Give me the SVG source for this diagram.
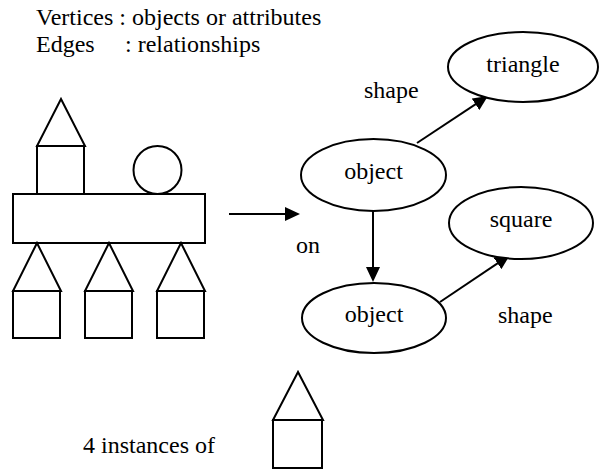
<svg xmlns="http://www.w3.org/2000/svg" width="600" height="471" viewBox="0 0 600 471">
<style>
  text { font-size: 24px; fill: #000; }
  .mid { text-anchor: middle; }
  .shape { fill: #fff; stroke: #000; stroke-width: 2; }
  .edge { stroke: #000; stroke-width: 2; fill: none; marker-end: url(#arrow); }
  .node ellipse { fill: #fff; stroke: #000; stroke-width: 2; }
</style>
<defs>
  <marker id="arrow" viewBox="0 0 15 14" refX="13" refY="7" markerWidth="15" markerHeight="14" markerUnits="userSpaceOnUse" orient="auto">
    <polygon points="0,0 15,7 0,14" fill="#000"/>
  </marker>
</defs>
<rect width="600" height="471" fill="#fff"/>

<g id="legend">
  <text x="36" y="25" font-family="'Times New Roman', 'Liberation Serif', Tinos, serif">Vertices : objects or attributes</text>
  <text x="36" y="52" font-family="'Times New Roman', 'Liberation Serif', Tinos, serif">Edges</text>
  <text x="125" y="52" font-family="'Times New Roman', 'Liberation Serif', Tinos, serif">: relationships</text>
</g>

<g id="scene">
  <polygon class="shape" points="61,99 37,146 85,146"/>
  <rect class="shape" x="37" y="146" width="47" height="48"/>
  <circle class="shape" cx="157.5" cy="170" r="24"/>
  <rect class="shape" x="13" y="194" width="192" height="49"/>
  <polygon class="shape" points="37,243 13,291 61,291"/>
  <rect class="shape" x="13" y="291" width="47" height="47"/>
  <polygon class="shape" points="109,243 85,291 133,291"/>
  <rect class="shape" x="85" y="291" width="47" height="47"/>
  <polygon class="shape" points="181,243 157,291 205,291"/>
  <rect class="shape" x="157" y="291" width="47" height="47"/>
</g>

<g id="connectors">
  <line class="edge" x1="229" y1="214" x2="298" y2="214"/>
  <line class="edge" x1="373" y1="211" x2="373" y2="280"/>
  <line class="edge" x1="417" y1="143" x2="486.3" y2="97.1"/>
  <line class="edge" x1="440" y1="302" x2="508.3" y2="256.1"/>
</g>

<g id="node-object1" class="node">
  <ellipse cx="373.5" cy="175" rx="72.5" ry="36"/>
  <text class="mid" x="373.5" y="179" font-family="'Times New Roman', 'Liberation Serif', Tinos, serif">object</text>
</g>
<g id="node-object2" class="node">
  <ellipse cx="374" cy="318" rx="72" ry="35"/>
  <text class="mid" x="374" y="322" font-family="'Times New Roman', 'Liberation Serif', Tinos, serif">object</text>
</g>
<g id="node-triangle" class="node">
  <ellipse cx="523" cy="67" rx="75" ry="35"/>
  <text class="mid" x="523" y="72" font-family="'Times New Roman', 'Liberation Serif', Tinos, serif">triangle</text>
</g>
<g id="node-square" class="node">
  <ellipse cx="521" cy="223" rx="72" ry="36"/>
  <text class="mid" x="521" y="227" font-family="'Times New Roman', 'Liberation Serif', Tinos, serif">square</text>
</g>

<g id="labels">
  <text x="364" y="98" font-family="'Times New Roman', 'Liberation Serif', Tinos, serif">shape</text>
  <text x="296" y="253" font-family="'Times New Roman', 'Liberation Serif', Tinos, serif">on</text>
  <text x="498" y="323" font-family="'Times New Roman', 'Liberation Serif', Tinos, serif">shape</text>
  <text x="83" y="453" font-family="'Times New Roman', 'Liberation Serif', Tinos, serif">4 instances of</text>
</g>

<g id="instance">
  <polygon class="shape" points="298,372 273,420 323,420"/>
  <rect class="shape" x="273" y="420" width="49" height="48"/>
</g>
</svg>
